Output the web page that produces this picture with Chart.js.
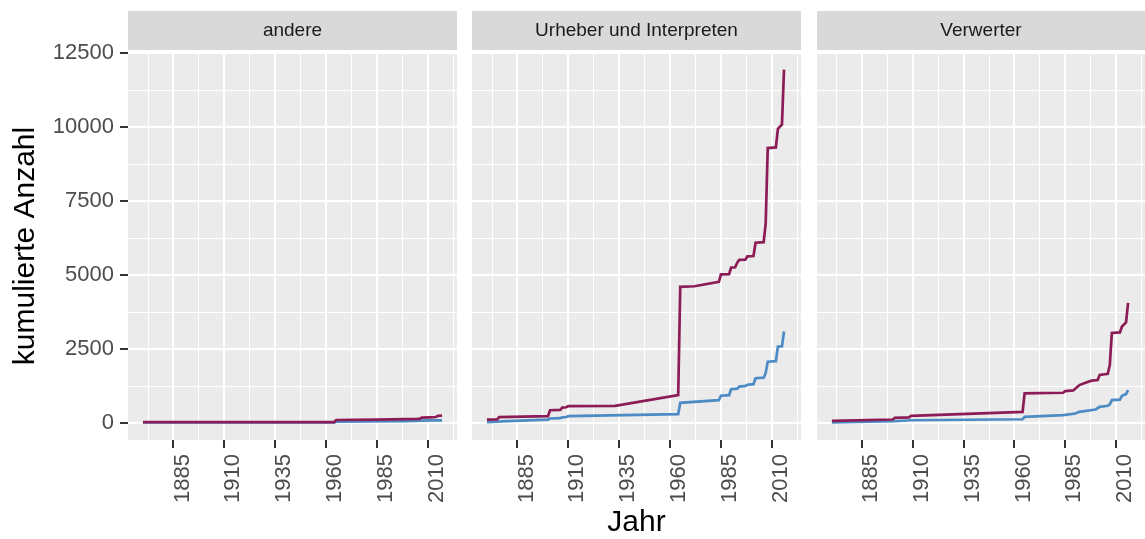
<!DOCTYPE html>
<html>
<head>
<meta charset="utf-8">
<title>kumulierte Anzahl</title>
<script src="https://cdn.jsdelivr.net/npm/chart.js@4.4.1/dist/chart.umd.min.js"></script>
<style>
  html, body { margin: 0; padding: 0; background: #ffffff; }
  #wrap { position: relative; width: 1145px; height: 539px; overflow: hidden; }
  #wrap canvas { position: absolute; left: 0; top: 0; }
</style>
</head>
<body>
<div id="wrap">
  <canvas id="panel0" width="1145" height="539"></canvas>
  <canvas id="panel1" width="1145" height="539"></canvas>
  <canvas id="panel2" width="1145" height="539"></canvas>
</div>
<script>
// Facet titles
const facetNames = ['andere', 'Urheber und Interpreten', 'Verwerter'];

// Axis tick labels
const xMajorTicks = [1885, 1910, 1935, 1960, 1985, 2010];
const yMajorTicks = [0, 2500, 5000, 7500, 10000, 12500];

// andere
const andereJahreLila = [1870, 1964, 1965, 1985, 2005, 2006, 2007, 2011, 2014, 2015, 2017];
const andereWerteLila = [35, 40, 110, 120, 145, 150, 190, 200, 210, 250, 255];
const andereJahreBlau = [1870, 1964, 1965, 2000, 2007, 2012, 2017];
const andereWerteBlau = [30, 32, 50, 70, 90, 95, 100];

// Urheber und Interpreten
const urheberJahreLila = [1870, 1875, 1876, 1900, 1901, 1906, 1907, 1909, 1910, 1933, 1964, 1965, 1972, 1984, 1985, 1989, 1990, 1992, 1993, 1994, 1997, 1998, 2001, 2002, 2006, 2007, 2008, 2012, 2013, 2015, 2016];
const urheberWerteLila = [120, 130, 210, 240, 440, 450, 530, 540, 580, 590, 950, 4610, 4630, 4780, 5030, 5040, 5260, 5270, 5430, 5520, 5530, 5640, 5650, 6100, 6120, 6750, 9300, 9320, 9950, 10100, 11950];
const urheberJahreBlau = [1870, 1880, 1900, 1901, 1906, 1907, 1909, 1910, 1964, 1965, 1984, 1985, 1989, 1990, 1993, 1994, 1997, 1998, 2001, 2002, 2006, 2007, 2008, 2012, 2013, 2015, 2016];
const urheberWerteBlau = [40, 70, 120, 160, 170, 200, 210, 240, 310, 690, 780, 930, 950, 1150, 1170, 1240, 1260, 1300, 1320, 1520, 1540, 1700, 2080, 2100, 2590, 2600, 3100];

// Verwerter
const verwerterJahreLila = [1870, 1900, 1901, 1908, 1909, 1964, 1965, 1984, 1985, 1989, 1992, 1995, 1998, 2001, 2002, 2006, 2007, 2008, 2012, 2013, 2015, 2016];
const verwerterWerteLila = [80, 126, 180, 200, 248, 384, 1010, 1030, 1088, 1110, 1290, 1370, 1440, 1460, 1630, 1670, 1970, 3050, 3070, 3270, 3410, 4070];
const verwerterJahreBlau = [1870, 1901, 1909, 1964, 1965, 1984, 1990, 1992, 2000, 2002, 2006, 2007, 2008, 2012, 2013, 2015, 2016];
const verwerterWerteBlau = [30, 68, 102, 136, 214, 272, 330, 385, 465, 555, 590, 640, 782, 800, 928, 985, 1122];

const panels = [
  { lilaX: andereJahreLila, lilaY: andereWerteLila, blauX: andereJahreBlau, blauY: andereWerteBlau },
  { lilaX: urheberJahreLila, lilaY: urheberWerteLila, blauX: urheberJahreBlau, blauY: urheberWerteBlau },
  { lilaX: verwerterJahreLila, lilaY: verwerterWerteLila, blauX: verwerterJahreBlau, blauY: verwerterWerteBlau }
];

// ---- styling ----
const FONT = "'Liberation Sans', Arial, Helvetica, sans-serif";
const LILA = '#8C1C56';
const BLAU = '#4C8BC4';
const PANEL_BG = '#EBEBEB';
const STRIP_BG = '#D9D9D9';

// ---- panel geometry (pixels) ----
const CANVAS_W = 1145, CANVAS_H = 539;
const panelLeft = [128, 472, 817];
const panelWidth = 329;
const stripTop = 11, stripBottom = 50;
const panelBottom = 440;

// shared (fixed) scales with 5 % expansion on each side
const allX = panels.flatMap(p => p.lilaX.concat(p.blauX));
const allY = panels.flatMap(p => p.lilaY.concat(p.blauY));
const xLo = Math.min(...allX), xHi = Math.max(...allX);
const yLo = Math.min(...allY), yHi = Math.max(...allY);
const xMin = xLo - 0.05 * (xHi - xLo), xMax = xHi + 0.05 * (xHi - xLo);
const yMin = yLo - 0.05 * (yHi - yLo), yMax = yHi + 0.05 * (yHi - yLo);

// major ticks plus the minor grid halfway between them
const xStep = xMajorTicks[1] - xMajorTicks[0];
const yStep = yMajorTicks[1] - yMajorTicks[0];
function withMinors(majors, step, lo, hi) {
  const vals = [];
  for (let v = majors[0] - step; v <= majors[majors.length - 1] + step; v += step / 2) {
    if (v >= lo && v <= hi) vals.push(v);
  }
  return vals;
}
const xGrid = withMinors(xMajorTicks, xStep, xMin, xMax);
const yGrid = withMinors(yMajorTicks, yStep, yMin, yMax);
const isMajorX = v => xMajorTicks.includes(v);
const isMajorY = v => yMajorTicks.includes(v);

const toPoints = (xs, ys) => xs.map((x, i) => ({ x: x, y: ys[i] }));

// grey panel background and facet strip behind everything
const facetBackground = {
  id: 'facetBackground',
  beforeDraw(chart) {
    const { ctx, chartArea: a } = chart;
    ctx.save();
    ctx.fillStyle = STRIP_BG;
    ctx.fillRect(a.left, stripTop, a.right - a.left, stripBottom - stripTop);
    ctx.fillStyle = PANEL_BG;
    ctx.fillRect(a.left, a.top, a.right - a.left, a.bottom - a.top);
    ctx.restore();
  }
};

panels.forEach((p, i) => {
  const first = i === 0;
  const right = Math.max(0, CANVAS_W - (panelLeft[i] + panelWidth));
  new Chart(document.getElementById('panel' + i), {
    type: 'line',
    data: {
      datasets: [
        { label: facetNames[i] + ' (lila)', data: toPoints(p.lilaX, p.lilaY), borderColor: LILA,
          borderWidth: 2.7, pointRadius: 0, tension: 0, fill: false, order: 0 },
        { label: facetNames[i] + ' (blau)', data: toPoints(p.blauX, p.blauY), borderColor: BLAU,
          borderWidth: 2.7, pointRadius: 0, tension: 0, fill: false, order: 1 }
      ]
    },
    options: {
      responsive: false,
      animation: false,
      devicePixelRatio: 1,
      events: [],
      layout: { padding: { left: first ? 0 : panelLeft[i], right: right, top: stripTop, bottom: 0 } },
      plugins: {
        legend: { display: false },
        tooltip: { enabled: false },
        title: {
          display: true,
          text: facetNames[i],
          fullSize: false,
          color: '#1A1A1A',
          font: { family: FONT, size: 19, weight: 'normal', lineHeight: 1 },
          padding: { top: 10.5, bottom: 11.5 }
        }
      },
      scales: {
        x: {
          type: 'linear',
          min: xMin,
          max: xMax,
          afterBuildTicks: s => { s.ticks = xGrid.map(v => ({ value: v })); },
          afterFit: s => {
            s.height = CANVAS_H - panelBottom;
            s.paddingLeft = 0;
            s.paddingRight = 0;
          },
          border: { display: false },
          grid: {
            color: '#FFFFFF',
            lineWidth: c => (c.tick && isMajorX(c.tick.value)) ? 2 : 1,
            tickColor: c => (c.tick && isMajorX(c.tick.value)) ? '#333333' : 'rgba(0,0,0,0)',
            tickWidth: 2,
            tickLength: 8
          },
          ticks: {
            autoSkip: false,
            minRotation: 90,
            maxRotation: 90,
            padding: 6,
            labelOffset: 9,
            color: '#4D4D4D',
            font: { family: FONT, size: 22 },
            callback: v => isMajorX(v) ? String(v) : ''
          },
          title: {
            display: i === 1,
            text: 'Jahr',
            color: '#000000',
            font: { family: FONT, size: 30, lineHeight: 1 },
            padding: { top: 0, bottom: 1 }
          }
        },
        y: {
          type: 'linear',
          min: yMin,
          max: yMax,
          afterBuildTicks: s => { s.ticks = yGrid.map(v => ({ value: v })); },
          afterFit: s => {
            s.width = first ? panelLeft[0] : 0;
            s.paddingTop = 0;
            s.paddingBottom = 0;
          },
          border: { display: false },
          grid: {
            color: '#FFFFFF',
            lineWidth: c => (c.tick && isMajorY(c.tick.value)) ? 2 : 1,
            drawTicks: first,
            tickColor: c => (c.tick && isMajorY(c.tick.value)) ? '#333333' : 'rgba(0,0,0,0)',
            tickWidth: 2,
            tickLength: 8
          },
          ticks: {
            display: first,
            padding: 6,
            color: '#4D4D4D',
            font: { family: FONT, size: 22 },
            callback: v => isMajorY(v) ? String(v) : ''
          },
          title: {
            display: first,
            text: 'kumulierte Anzahl',
            color: '#000000',
            font: { family: FONT, size: 30, lineHeight: 1 },
            padding: { top: 11, bottom: 0 }
          }
        }
      }
    },
    plugins: [facetBackground]
  });
});
</script>
</body>
</html>
